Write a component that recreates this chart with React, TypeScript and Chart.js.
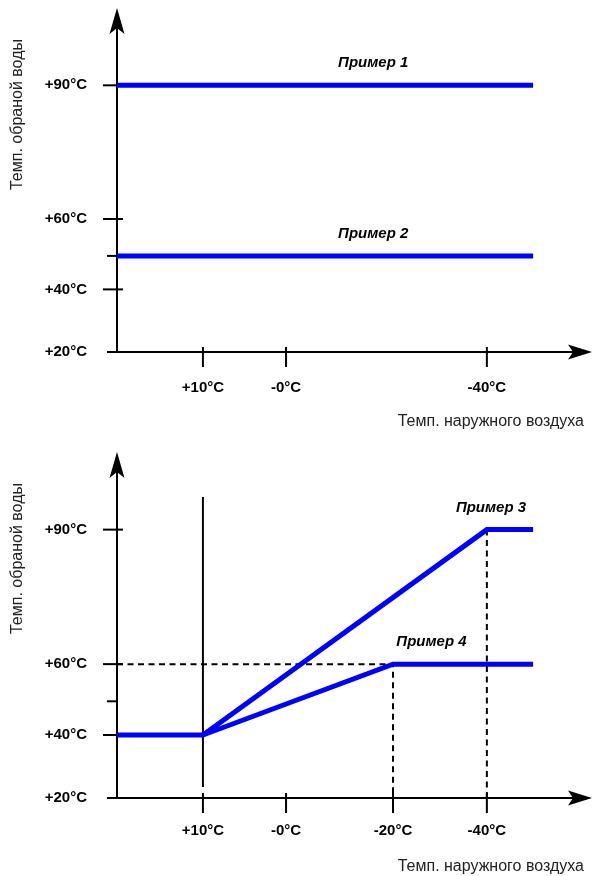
import React, { useEffect, useRef } from 'react';
import { Chart, LinearScale, registerables } from 'chart.js';

// ---------- data ----------
const yTickValues = [20, 40, 50, 60, 90];
const yTickLabels = ['+20°C', '+40°C', '', '+60°C', '+90°C'];

const topXTickValues = [10, 0, -40];
const topXTickLabels = ['+10°C', '-0°C', '-40°C'];
const bottomXTickValues = [10, 0, -20, -40];
const bottomXTickLabels = ['+10°C', '-0°C', '-20°C', '-40°C'];

const example1X = [20, -50];
const example1Y = [90, 90];
const example2X = [20, -50];
const example2Y = [50, 50];
const example3X = [20, 10, -40, -50];
const example3Y = [40, 40, 90, 90];
const example4X = [10, -20, -50];
const example4Y = [40, 60, 60];
const markerX = [10, 10];
const markerY = [23.5, 97];
const guide60X = [20, -20, -20];
const guide60Y = [60, 60, 20];
const guide90X = [-40, -40];
const guide90Y = [90, 20];

const topLabelNames = ['Пример 1', 'Пример 2'];
const topLabelX = [-16.3, -16.3];
const topLabelY = [90, 50];
const bottomLabelNames = ['Пример 3', 'Пример 4'];
const bottomLabelX = [-40.9, -28.2];
const bottomLabelY = [90, 60];

const yTitle = 'Темп. обраной воды';
const xTitle = 'Темп. наружного воздуха';

// schematic (non-uniform) axis breakpoints: value -> fraction of axis length
const xAnchorValues = [20, 10, 0, -20, -40, -50, -60];
const xAnchorFracs = [0, 0.184, 0.362, 0.591, 0.792, 0.891, 1];
const yAnchorValues = [20, 40, 50, 60, 90, 100];
const yAnchorFracs = [0, 0.2, 0.307, 0.425, 0.852, 1];

const FONT = "'Liberation Sans', Arial, Helvetica, sans-serif";
const BLUE = '#0000ff';

function interp(from: number[], to: number[], v: number): number {
  for (let i = 0; i < from.length - 1; i++) {
    const a = from[i], b = from[i + 1];
    if ((v - a) * (v - b) <= 0 && a !== b) {
      return to[i] + ((v - a) / (b - a)) * (to[i + 1] - to[i]);
    }
  }
  const n = from.length;
  const useFirst = Math.abs(v - from[0]) < Math.abs(v - from[n - 1]);
  const i0 = useFirst ? 0 : n - 2;
  const i1 = i0 + 1;
  return to[i0] + ((v - from[i0]) / (from[i1] - from[i0])) * (to[i1] - to[i0]);
}

class SchematicScale extends LinearScale {
  static id = 'schematic';
  static defaults = { ...(LinearScale as any).defaults };
  buildTicks() {
    const vals: number[] = (this.options as any).tickValues || [];
    return vals.map((v) => ({ value: v }));
  }
  getPixelForValue(value: any) {
    if (value === null || value === undefined || isNaN(value)) return NaN;
    const o: any = this.options;
    return this.getPixelForDecimal(interp(o.anchorValues, o.anchorFracs, value));
  }
  getValueForPixel(pixel: number) {
    const o: any = this.options;
    return interp(o.anchorFracs, o.anchorValues, this.getDecimalForPixel(pixel));
  }
}

Chart.register(...registerables, SchematicScale as any);

const pts = (xs: number[], ys: number[]) => xs.map((x, i) => ({ x, y: ys[i] }));

function blueSeries(label: string, xs: number[], ys: number[]) {
  return {
    label,
    data: pts(xs, ys),
    borderColor: BLUE,
    borderWidth: 5,
    pointRadius: 0,
    tension: 0,
    fill: false,
    borderJoinStyle: 'miter',
    borderCapStyle: 'butt',
  };
}

function blackSeries(label: string, xs: number[], ys: number[], dashed: boolean) {
  return {
    label,
    data: pts(xs, ys),
    borderColor: '#000',
    borderWidth: 2,
    borderDash: dashed ? [6, 4.5] : [],
    pointRadius: 0,
    tension: 0,
    fill: false,
    borderCapStyle: 'butt',
  };
}

function axesPlugin() {
  return {
    id: 'schematicAxes',
    beforeDatasetsDraw(chart: any) {
      const { ctx, chartArea } = chart;
      const xs = chart.scales.x;
      const ys = chart.scales.y;
      const ox = xs.getPixelForValue(xAnchorValues[0]);
      const oy = ys.getPixelForValue(yAnchorValues[0]);
      ctx.save();
      ctx.strokeStyle = '#000';
      ctx.fillStyle = '#000';
      ctx.lineWidth = 2;
      const seg = (x1: number, y1: number, x2: number, y2: number) => {
        ctx.beginPath();
        ctx.moveTo(x1, y1);
        ctx.lineTo(x2, y2);
        ctx.stroke();
      };
      // y axis + arrow
      const yTip = chartArea.top - 31;
      seg(ox, oy + 1, ox, yTip + 20);
      ctx.beginPath();
      ctx.moveTo(ox, yTip);
      ctx.lineTo(ox + 7.5, yTip + 26);
      ctx.lineTo(ox, yTip + 20);
      ctx.lineTo(ox - 7.5, yTip + 26);
      ctx.closePath();
      ctx.fill();
      // x axis + arrow
      const xTip = chartArea.right + 8;
      seg(ox - 10, oy, xTip - 19, oy);
      ctx.beginPath();
      ctx.moveTo(xTip, oy);
      ctx.lineTo(xTip - 24, oy - 7.5);
      ctx.lineTo(xTip - 19, oy);
      ctx.lineTo(xTip - 24, oy + 7.5);
      ctx.closePath();
      ctx.fill();
      // y ticks
      ys.ticks.forEach((t: any) => {
        if (t.value === yAnchorValues[0]) return;
        const py = ys.getPixelForValue(t.value);
        if (t.label) seg(ox - 14, py, ox + 6, py);
        else seg(ox - 10, py, ox, py);
      });
      // x ticks
      xs.ticks.forEach((t: any) => {
        const px = xs.getPixelForValue(t.value);
        seg(px, oy - 5, px, oy + 15);
      });
      ctx.restore();
    },
  };
}

function labelsPlugin(names: string[], lx: number[], ly: number[]) {
  return {
    id: 'seriesLabels',
    afterDatasetsDraw(chart: any) {
      const { ctx } = chart;
      ctx.save();
      ctx.font = `italic bold 15px ${FONT}`;
      ctx.fillStyle = '#000';
      ctx.textAlign = 'center';
      ctx.textBaseline = 'middle';
      names.forEach((n, i) => {
        const px = chart.scales.x.getPixelForValue(lx[i]);
        const py = chart.scales.y.getPixelForValue(ly[i]);
        ctx.fillText(n, px, py - 22);
      });
      ctx.restore();
    },
  };
}

function makeConfig(p: {
  datasets: any[];
  xTickValues: number[];
  xTickLabels: string[];
  padTop: number;
  xAxisHeight: number;
  xTickPad: number;
  xTitlePad: number;
  names: string[];
  lx: number[];
  ly: number[];
}): any {
  return {
    type: 'line',
    data: { datasets: p.datasets },
    options: {
      responsive: false,
      animation: false,
      events: [],
      layout: { padding: { top: p.padTop, right: 10, left: 0, bottom: 0 } },
      plugins: { legend: { display: false }, tooltip: { enabled: false } },
      scales: {
        x: {
          type: 'schematic',
          position: 'bottom',
          min: -60,
          max: 20,
          anchorValues: xAnchorValues,
          anchorFracs: xAnchorFracs,
          tickValues: p.xTickValues,
          grid: { display: false, drawTicks: false, tickLength: 0 },
          border: { display: false },
          ticks: {
            autoSkip: false,
            maxRotation: 0,
            minRotation: 0,
            padding: p.xTickPad,
            color: '#000',
            font: { family: FONT, size: 15, weight: 'bold' },
            callback: (_v: any, i: number) => p.xTickLabels[i],
          },
          title: {
            display: true,
            text: xTitle,
            align: 'end',
            color: '#222',
            font: { family: FONT, size: 16, weight: 'normal' },
            padding: { top: 0, bottom: p.xTitlePad },
          },
          afterFit: (s: any) => {
            s.height = p.xAxisHeight;
          },
        },
        y: {
          type: 'schematic',
          position: 'left',
          min: 20,
          max: 100,
          anchorValues: yAnchorValues,
          anchorFracs: yAnchorFracs,
          tickValues: yTickValues,
          grid: { display: false, drawTicks: false, tickLength: 0 },
          border: { display: false },
          ticks: {
            autoSkip: false,
            padding: 30,
            color: '#000',
            font: { family: FONT, size: 15, weight: 'bold' },
            callback: (_v: any, i: number) => yTickLabels[i],
          },
          title: {
            display: true,
            text: yTitle,
            align: 'end',
            color: '#222',
            font: { family: FONT, size: 16, weight: 'normal' },
            padding: { top: 8, bottom: 0 },
          },
          afterFit: (s: any) => {
            s.width = 117;
          },
        },
      },
    },
    plugins: [axesPlugin(), labelsPlugin(p.names, p.lx, p.ly)],
  };
}

export default function App() {
  const topRef = useRef<HTMLCanvasElement>(null);
  const bottomRef = useRef<HTMLCanvasElement>(null);

  useEffect(() => {
    const top = new Chart(
      topRef.current as HTMLCanvasElement,
      makeConfig({
        datasets: [
          blueSeries('Пример 1', example1X, example1Y),
          blueSeries('Пример 2', example2X, example2Y),
        ],
        xTickValues: topXTickValues,
        xTickLabels: topXTickLabels,
        padTop: 38,
        xAxisHeight: 86,
        xTickPad: 26.5,
        xTitlePad: 7,
        names: topLabelNames,
        lx: topLabelX,
        ly: topLabelY,
      })
    );
    const bottom = new Chart(
      bottomRef.current as HTMLCanvasElement,
      makeConfig({
        datasets: [
          blueSeries('Пример 3', example3X, example3Y),
          blueSeries('Пример 4', example4X, example4Y),
          blackSeries('+10°C', markerX, markerY, false),
          blackSeries('60°C', guide60X, guide60Y, true),
          blackSeries('90°C', guide90X, guide90Y, true),
        ],
        xTickValues: bottomXTickValues,
        xTickLabels: bottomXTickLabels,
        padTop: 45,
        xAxisHeight: 78,
        xTickPad: 24,
        xTitlePad: 0,
        names: bottomLabelNames,
        lx: bottomLabelX,
        ly: bottomLabelY,
      })
    );
    return () => {
      top.destroy();
      bottom.destroy();
    };
  }, []);

  return (
    <div style={{ position: 'absolute', left: 0, top: 0, width: 594, height: 876, background: '#fff' }}>
      <canvas ref={topRef} width={594} height={438} style={{ display: 'block' }} />
      <canvas ref={bottomRef} width={594} height={438} style={{ display: 'block' }} />
    </div>
  );
}
